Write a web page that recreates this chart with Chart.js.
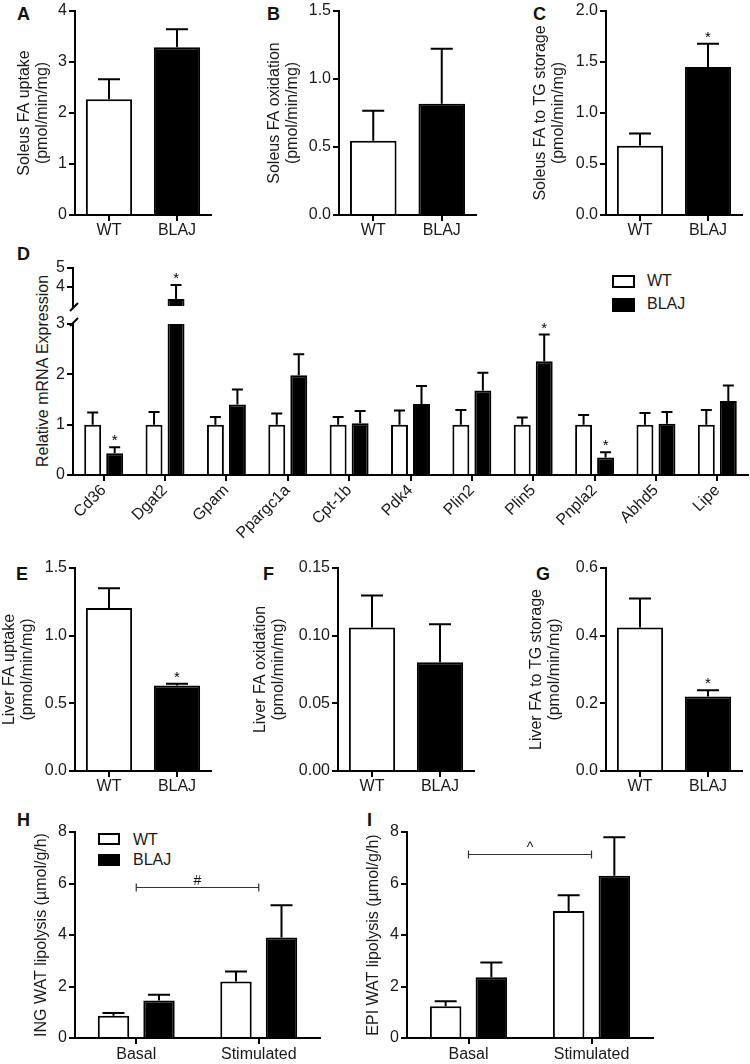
<!DOCTYPE html>
<html>
<head>
<meta charset="utf-8">
<title>FA metabolism in soleus, liver and WAT</title>
<script src="https://cdn.jsdelivr.net/npm/chart.js@4.4.1/dist/chart.umd.min.js"></script>
<style>
  body { margin: 0; width: 750px; height: 1064px; position: relative; overflow: hidden; background: #fff;
         font-family: "Liberation Sans", Arial, Helvetica, sans-serif; color: #1a1a1a; }
  canvas { position: absolute; }
  .tag { position: absolute; font-weight: bold; font-size: 18px; line-height: 18px; color: #111; }
  .key { position: absolute; font-size: 16px; line-height: 16px; white-space: nowrap; }
  .box { position: absolute; box-sizing: border-box; border: 2px solid #000; background: #fff; }
  .box.fill { background: #000; }
  .vtitle { position: absolute; font-size: 16px; white-space: nowrap; transform: translate(-50%, -50%) rotate(-90deg); }
</style>
</head>
<body>
<div class="tag" style="left:17px;top:5px">A</div>
<div class="tag" style="left:267px;top:5px">B</div>
<div class="tag" style="left:533px;top:5px">C</div>
<div class="tag" style="left:17px;top:245px">D</div>
<div class="tag" style="left:16px;top:565px">E</div>
<div class="tag" style="left:263px;top:565px">F</div>
<div class="tag" style="left:536px;top:565px">G</div>
<div class="tag" style="left:17px;top:811px">H</div>
<div class="tag" style="left:367px;top:811px">I</div>

<div class="vtitle" style="left:43px;top:371px">Relative mRNA Expression</div>

<!-- legend D -->
<div class="box" style="left:612px;top:275px;width:23px;height:13px"></div>
<div class="key" style="left:647px;top:273px">WT</div>
<div class="box fill" style="left:612px;top:298px;width:23px;height:14px"></div>
<div class="key" style="left:647px;top:296px">BLAJ</div>
<!-- legend H -->
<div class="box" style="left:98px;top:833px;width:22px;height:12px"></div>
<div class="key" style="left:133px;top:832px">WT</div>
<div class="box fill" style="left:98px;top:854px;width:22px;height:12px"></div>
<div class="key" style="left:133px;top:852px">BLAJ</div>

<script>
// ---- data (mean, SEM) ----
const groups = ["WT", "BLAJ"];

const soleusUptake = [2.27, 3.29];
const soleusUptakeSem = [0.39, 0.35];
const soleusOxidation = [0.546, 0.818];
const soleusOxidationSem = [0.22, 0.405];
const soleusStorage = [0.68, 1.45];
const soleusStorageSem = [0.12, 0.23];
const soleusStorageSig = [false, true];

const genes = ["Cd36", "Dgat2", "Gpam", "Ppargc1a", "Cpt-1b", "Pdk4", "Plin2", "Plin5", "Pnpla2", "Abhd5", "Lipe"];
const wtExpr = [1, 1, 1, 1, 1, 1, 1, 1, 1, 1, 1];
const wtExprSem = [0.24, 0.25, 0.15, 0.22, 0.15, 0.28, 0.29, 0.14, 0.19, 0.23, 0.29];
const blajExpr = [0.43, 3.37, 1.40, 1.98, 1.03, 1.41, 1.68, 2.26, 0.35, 1.02, 1.47];
const blajExprSem = [0.12, 0.73, 0.30, 0.42, 0.24, 0.36, 0.35, 0.53, 0.10, 0.23, 0.31];
const blajExprSig = [true, true, false, false, false, false, false, true, true, false, false];

const liverUptake = [1.205, 0.632];
const liverUptakeSem = [0.145, 0.013];
const liverUptakeSig = [false, true];
const liverOxidation = [0.106, 0.0804];
const liverOxidationSem = [0.0236, 0.028];
const liverStorage = [0.424, 0.22];
const liverStorageSem = [0.086, 0.019];
const liverStorageSig = [false, true];

const conditions = ["Basal", "Stimulated"];
const ingWT = [0.86, 2.19];
const ingWTSem = [0.11, 0.39];
const ingBLAJ = [1.46, 3.9];
const ingBLAJSem = [0.22, 1.26];
const epiWT = [1.23, 4.93];
const epiWTSem = [0.2, 0.61];
const epiBLAJ = [2.36, 6.3];
const epiBLAJSem = [0.57, 1.5];

// ---- defaults ----
const FAMILY = '"Liberation Sans", Arial, Helvetica, sans-serif';
Chart.defaults.font.family = FAMILY;
Chart.defaults.font.size = 16;
Chart.defaults.color = '#1a1a1a';
Chart.defaults.animation = false;
Chart.defaults.plugins.legend.display = false;
Chart.defaults.plugins.tooltip.enabled = false;

// upper error bars + significance stars
const errorBars = {
  id: 'errorBars',
  afterDatasetsDraw(chart, args, opts) {
    const { ctx, chartArea: a } = chart;
    const ys = chart.scales.y;
    ctx.save();
    ctx.beginPath();
    ctx.rect(a.left, a.top - 1, a.right - a.left, a.bottom - a.top + 1);
    ctx.clip();
    ctx.strokeStyle = '#000';
    ctx.fillStyle = '#000';
    ctx.lineWidth = 2;
    ctx.font = '15px ' + FAMILY;
    ctx.textAlign = 'center';
    ctx.textBaseline = 'alphabetic';
    chart.data.datasets.forEach((ds, di) => {
      if (!ds.sem) return;
      chart.getDatasetMeta(di).data.forEach((bar, i) => {
        const top = ys.getPixelForValue(ds.data[i] + ds.sem[i]);
        const half = opts.cap / 2;
        ctx.beginPath();
        ctx.moveTo(bar.x, bar.y);
        ctx.lineTo(bar.x, top);
        ctx.moveTo(bar.x - half, top);
        ctx.lineTo(bar.x + half, top);
        ctx.stroke();
        // star only when its error bar end is visible in this segment
        if (ds.sig && ds.sig[i] && top >= a.top && top <= a.bottom) ctx.fillText('*', bar.x, top - 2);
      });
    });
    ctx.restore();
  }
};

// comparison bracket between two categories (H, I)
const bracket = {
  id: 'bracket',
  afterDatasetsDraw(chart, args, o) {
    if (o.value == null) return;
    const { ctx } = chart;
    const x1 = chart.scales.x.getPixelForValue(o.from);
    const x2 = chart.scales.x.getPixelForValue(o.to);
    const y = Math.round(chart.scales.y.getPixelForValue(o.value)) + 0.5;
    ctx.save();
    ctx.strokeStyle = '#333';
    ctx.lineWidth = 1.2;
    ctx.beginPath();
    ctx.moveTo(x1, y); ctx.lineTo(x2, y);
    ctx.moveTo(x1, y - 4); ctx.lineTo(x1, y + 4);
    ctx.moveTo(x2, y - 4); ctx.lineTo(x2, y + 4);
    ctx.stroke();
    ctx.fillStyle = '#111';
    ctx.font = '14px ' + FAMILY;
    ctx.textAlign = 'center';
    ctx.textBaseline = 'alphabetic';
    ctx.fillText(o.mark, (x1 + x2) / 2, y - 3);
    ctx.restore();
  }
};

// slash marks for the broken y axis in D
const axisBreak = {
  id: 'axisBreak',
  afterDraw(chart, args, o) {
    if (!o.edge) return;
    const { ctx, chartArea: a } = chart;
    const x = a.left + 1;
    const y = o.edge === 'bottom' ? a.bottom + 1 : a.top - 2;
    ctx.save();
    ctx.strokeStyle = '#000';
    ctx.lineWidth = 2;
    ctx.beginPath();
    ctx.moveTo(x - 4, y + 4);
    ctx.lineTo(x + 4, y - 4);
    ctx.stroke();
    ctx.restore();
  }
};

function barPanel(o) {
  const top = o.area.t - 16;
  const padBottom = o.padBottom || 0;
  const w = o.area.r - o.left + 4;
  const h = o.area.b - top + (o.xh || 0) + padBottom;
  const cv = document.createElement('canvas');
  cv.width = w;
  cv.height = h;
  cv.style.left = o.left + 'px';
  cv.style.top = top + 'px';
  document.body.appendChild(cv);

  return new Chart(cv, {
    type: 'bar',
    data: { labels: o.labels, datasets: o.datasets },
    options: {
      responsive: false,
      layout: { padding: { top: 16, right: 4, left: 0, bottom: padBottom } },
      scales: {
        x: {
          display: o.xh ? true : false,
          offset: true,
          grid: { display: true, drawOnChartArea: false, offset: false, tickLength: 6, color: '#000', lineWidth: 2 },
          border: { display: true, color: '#000', width: 2 },
          ticks: {
            padding: o.xPad || 0,
            autoSkip: false,
            minRotation: o.rot || 0,
            maxRotation: o.rot || 0,
            color: '#1a1a1a',
            font: { size: 16 }
          },
          afterFit: s => { s.height = o.xh; }
        },
        y: {
          min: o.min,
          max: o.max,
          grid: { display: true, drawOnChartArea: false, tickLength: 6, color: '#000', lineWidth: 2 },
          border: { display: true, color: '#000', width: 2 },
          ticks: {
            stepSize: o.step,
            padding: 2,
            color: '#1a1a1a',
            font: { size: 16 },
            callback: v => v.toFixed(o.dec || 0)
          },
          title: o.title
            ? { display: true, text: o.title, color: '#1a1a1a', padding: { top: 2, bottom: 0 }, font: { size: 16, lineHeight: 1.15 } }
            : { display: false },
          afterBuildTicks: o.tickFilter ? s => { s.ticks = s.ticks.filter(o.tickFilter); } : undefined,
          afterFit: s => { s.width = o.area.l - o.left; }
        }
      },
      plugins: {
        errorBars: { cap: o.cap },
        bracket: o.bracket || {},
        axisBreak: o.axisBreak || {}
      }
    },
    plugins: [errorBars, bracket, axisBreak]
  });
}

function pairSet(values, sem, sig) {
  return [{
    data: values, sem: sem, sig: sig,
    backgroundColor: ['#fff', '#000'], borderColor: '#000', borderWidth: 2,
    barPercentage: 0.85, categoryPercentage: 0.8, clip: 0
  }];
}

function groupSets(wt, wtSem, blaj, blajSem, blajSig, barPct, catPct) {
  return [
    { label: 'WT', data: wt, sem: wtSem, backgroundColor: '#fff', borderColor: '#000', borderWidth: 2,
      barPercentage: barPct, categoryPercentage: catPct, clip: 0 },
    { label: 'BLAJ', data: blaj, sem: blajSem, sig: blajSig, backgroundColor: '#000', borderColor: '#000', borderWidth: 2,
      barPercentage: barPct, categoryPercentage: catPct, clip: 0 }
  ];
}

// A - C: soleus
barPanel({ left: 13, area: { l: 75, t: 11, r: 211, b: 215 }, xh: 30, labels: groups,
  datasets: pairSet(soleusUptake, soleusUptakeSem), min: 0, max: 4, step: 1, dec: 0, cap: 22,
  title: ['Soleus FA uptake', '(pmol/min/mg)'] });
barPanel({ left: 263, area: { l: 339, t: 11, r: 476, b: 215 }, xh: 30, labels: groups,
  datasets: pairSet(soleusOxidation, soleusOxidationSem), min: 0, max: 1.5, step: 0.5, dec: 1, cap: 22,
  title: ['Soleus FA oxidation', '(pmol/min/mg)'] });
barPanel({ left: 529, area: { l: 606, t: 11, r: 742, b: 215 }, xh: 30, labels: groups,
  datasets: pairSet(soleusStorage, soleusStorageSem, soleusStorageSig), min: 0, max: 2, step: 0.5, dec: 1, cap: 22,
  title: ['Soleus FA to TG storage', '(pmol/min/mg)'] });

// D: gene expression, broken axis (upper and lower segments)
barPanel({ left: 0, area: { l: 73, t: 268, r: 748, b: 306 }, xh: 0, padBottom: 12, labels: genes,
  datasets: groupSets(wtExpr, wtExprSem, blajExpr, blajExprSem, blajExprSig, 0.77, 0.717),
  min: 3, max: 5, step: 1, dec: 0, cap: 11, tickFilter: t => t.value >= 4, axisBreak: { edge: 'bottom' } });
barPanel({ left: 0, area: { l: 73, t: 324, r: 748, b: 475 }, xh: 75, rot: 45, labels: genes,
  datasets: groupSets(wtExpr, wtExprSem, blajExpr, blajExprSem, blajExprSig, 0.77, 0.717),
  min: 0, max: 3, step: 1, dec: 0, cap: 11, axisBreak: { edge: 'top' } });

// E - G: liver
barPanel({ left: -2, area: { l: 75, t: 568, r: 211, b: 771 }, xh: 30, labels: groups,
  datasets: pairSet(liverUptake, liverUptakeSem, liverUptakeSig), min: 0, max: 1.5, step: 0.5, dec: 1, cap: 22,
  title: ['Liver FA uptake', '(pmol/min/mg)'] });
barPanel({ left: 249, area: { l: 338, t: 568, r: 474, b: 771 }, xh: 30, labels: groups,
  datasets: pairSet(liverOxidation, liverOxidationSem), min: 0, max: 0.15, step: 0.05, dec: 2, cap: 22,
  title: ['Liver FA oxidation', '(pmol/min/mg)'] });
barPanel({ left: 525, area: { l: 606, t: 568, r: 742, b: 771 }, xh: 30, labels: groups,
  datasets: pairSet(liverStorage, liverStorageSem, liverStorageSig), min: 0, max: 0.6, step: 0.2, dec: 1, cap: 22,
  title: ['Liver FA to TG storage', '(pmol/min/mg)'] });

// H - I: WAT lipolysis
barPanel({ left: 30, area: { l: 75, t: 832, r: 320, b: 1038 }, xh: 26, xPad: 1, labels: conditions,
  datasets: groupSets(ingWT, ingWTSem, ingBLAJ, ingBLAJSem, null, 0.69, 0.743),
  min: 0, max: 8, step: 2, dec: 0, cap: 22, title: 'ING WAT lipolysis (\u00b5mol/g/h)',
  bracket: { from: 0, to: 1, value: 5.87, mark: '#' } });
barPanel({ left: 362, area: { l: 407, t: 832, r: 653, b: 1038 }, xh: 26, xPad: 1, labels: conditions,
  datasets: groupSets(epiWT, epiWTSem, epiBLAJ, epiBLAJSem, null, 0.69, 0.743),
  min: 0, max: 8, step: 2, dec: 0, cap: 22, title: 'EPI WAT lipolysis (\u00b5mol/g/h)',
  bracket: { from: 0, to: 1, value: 7.16, mark: '^' } });
</script>
</body>
</html>
